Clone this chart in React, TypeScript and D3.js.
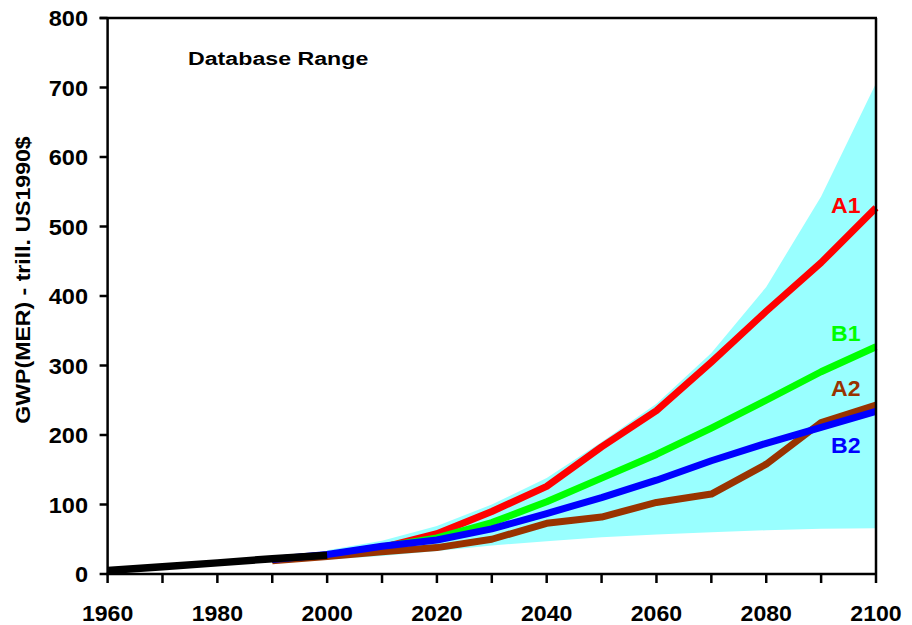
import React from "react";
import * as d3 from "d3";

const years = [1990, 2000, 2010, 2020, 2030, 2040, 2050, 2060, 2070, 2080, 2090, 2100];
const histYears = [1960, 1970, 1980, 1990, 2000];
const histValues = [5, 10.5, 16, 22, 27];

const a1 = [21, 27, 38, 58, 90, 126, 183, 235, 305, 378, 448, 527];
const b1 = [21, 27, 39, 52, 74, 104, 138, 172, 210, 250, 291, 327];
const a2 = [19, 25, 32, 38, 50, 73, 82, 103, 115, 158, 218, 243];
const b2 = [21, 28, 40, 49, 65, 87, 110, 135, 163, 188, 211, 234];

const bandYears = [2000, 2010, 2020, 2030, 2040, 2050, 2060, 2070, 2080, 2090, 2100];
const bandUpper = [34, 48, 69, 100, 138, 190, 245, 318, 413, 543, 706];
const bandLower = [21, 26, 33, 41, 47, 53, 57, 60, 63, 65, 66];

const xTicks = [1960, 1970, 1980, 1990, 2000, 2010, 2020, 2030, 2040, 2050, 2060, 2070, 2080, 2090, 2100];
const xTickLabels = [1960, 1980, 2000, 2020, 2040, 2060, 2080, 2100];
const yTicks = [0, 100, 200, 300, 400, 500, 600, 700, 800];

const yTitle = "GWP(MER) - trill. US1990$";
const bandTitle = "Database Range";

const seriesList = [
  { name: "A1", values: a1, color: "#ff0000", labelY: 213 },
  { name: "B1", values: b1, color: "#00ff00", labelY: 341 },
  { name: "A2", values: a2, color: "#993300", labelY: 396 },
  { name: "B2", values: b2, color: "#0000ff", labelY: 453 },
];
const drawOrder = ["A1", "B1", "A2", "B2"];

const W = 912;
const H = 625;
const L = 107.6;
const R = 876;
const T = 18;
const B = 574;
const FONT = "'Liberation Sans', Arial, Helvetica, sans-serif";

type TxtProps = {
  x: number;
  y: number;
  size: number;
  sx?: number;
  anchor?: "start" | "middle" | "end";
  fill?: string;
  rotate?: number;
  children: React.ReactNode;
};

function Txt({ x, y, size, sx = 1, anchor = "start", fill = "#000", rotate = 0, children }: TxtProps) {
  return (
    <text
      transform={`translate(${x},${y}) rotate(${rotate}) scale(${sx},1)`}
      textAnchor={anchor}
      fontFamily={FONT}
      fontWeight="bold"
      fontSize={size}
      fill={fill}
    >
      {children}
    </text>
  );
}

export default function App() {
  React.useLayoutEffect(() => {
    document.body.style.margin = "0";
  }, []);

  const x = d3.scaleLinear().domain([1960, 2100]).range([L, R]);
  const y = d3.scaleLinear().domain([0, 800]).range([B, T]);

  const line = d3
    .line<[number, number]>()
    .x((d) => x(d[0]))
    .y((d) => y(d[1]));

  const area = d3
    .area<number>()
    .x((_, i) => x(bandYears[i]))
    .y0((_, i) => y(bandLower[i]))
    .y1((d) => y(d));

  const sorted = drawOrder.map((n) => seriesList.find((s) => s.name === n)!);

  return (
    <svg width={W} height={H} style={{ display: "block", background: "#fff" }}>
      <path d={area(bandUpper) || ""} fill="#99ffff" stroke="none" />
      {sorted.map((s) => (
        <path
          key={s.name}
          d={line(years.map((yr, i) => [yr, s.values[i]] as [number, number])) || ""}
          fill="none"
          stroke={s.color}
          strokeWidth={7}
          strokeLinejoin="round"
        />
      ))}
      <path
        d={line(histYears.map((yr, i) => [yr, histValues[i]] as [number, number])) || ""}
        fill="none"
        stroke="#000"
        strokeWidth={7.5}
        strokeLinejoin="round"
      />
      {/* frame */}
      <line x1={L} x2={L} y1={T} y2={B} stroke="#000" strokeWidth={2.5} />
      <line x1={L - 1.25} x2={R + 1} y1={B} y2={B} stroke="#000" strokeWidth={2.5} />
      <line x1={L - 8} x2={R + 1} y1={T} y2={T} stroke="#000" strokeWidth={2.5} />
      <line x1={R} x2={R} y1={T} y2={B} stroke="#000" strokeWidth={2.5} />
      {/* y ticks */}
      {yTicks.map((t) => (
        <g key={"y" + t}>
          <line x1={L - 8} x2={L} y1={y(t)} y2={y(t)} stroke="#000" strokeWidth={2.5} />
          <Txt x={88} y={y(t) + 8} size={22} sx={1.07} anchor="end">
            {t}
          </Txt>
        </g>
      ))}
      {/* x ticks */}
      {xTicks.map((t) => (
        <line key={"x" + t} x1={x(t)} x2={x(t)} y1={B} y2={B + 9} stroke="#000" strokeWidth={2.5} />
      ))}
      {xTickLabels.map((t) => (
        <Txt key={"xl" + t} x={x(t)} y={621} size={22} sx={1.05} anchor="middle">
          {t}
        </Txt>
      ))}
      <Txt x={30} y={(T + B) / 2 - 16} size={21} sx={1.1} anchor="middle" rotate={-90}>
        {yTitle}
      </Txt>
      <Txt x={188} y={65} size={19} sx={1.22}>
        {bandTitle}
      </Txt>
      {seriesList.map((s) => (
        <Txt key={"lbl" + s.name} x={831} y={s.labelY} size={22} sx={1.05} fill={s.color}>
          {s.name}
        </Txt>
      ))}
    </svg>
  );
}
